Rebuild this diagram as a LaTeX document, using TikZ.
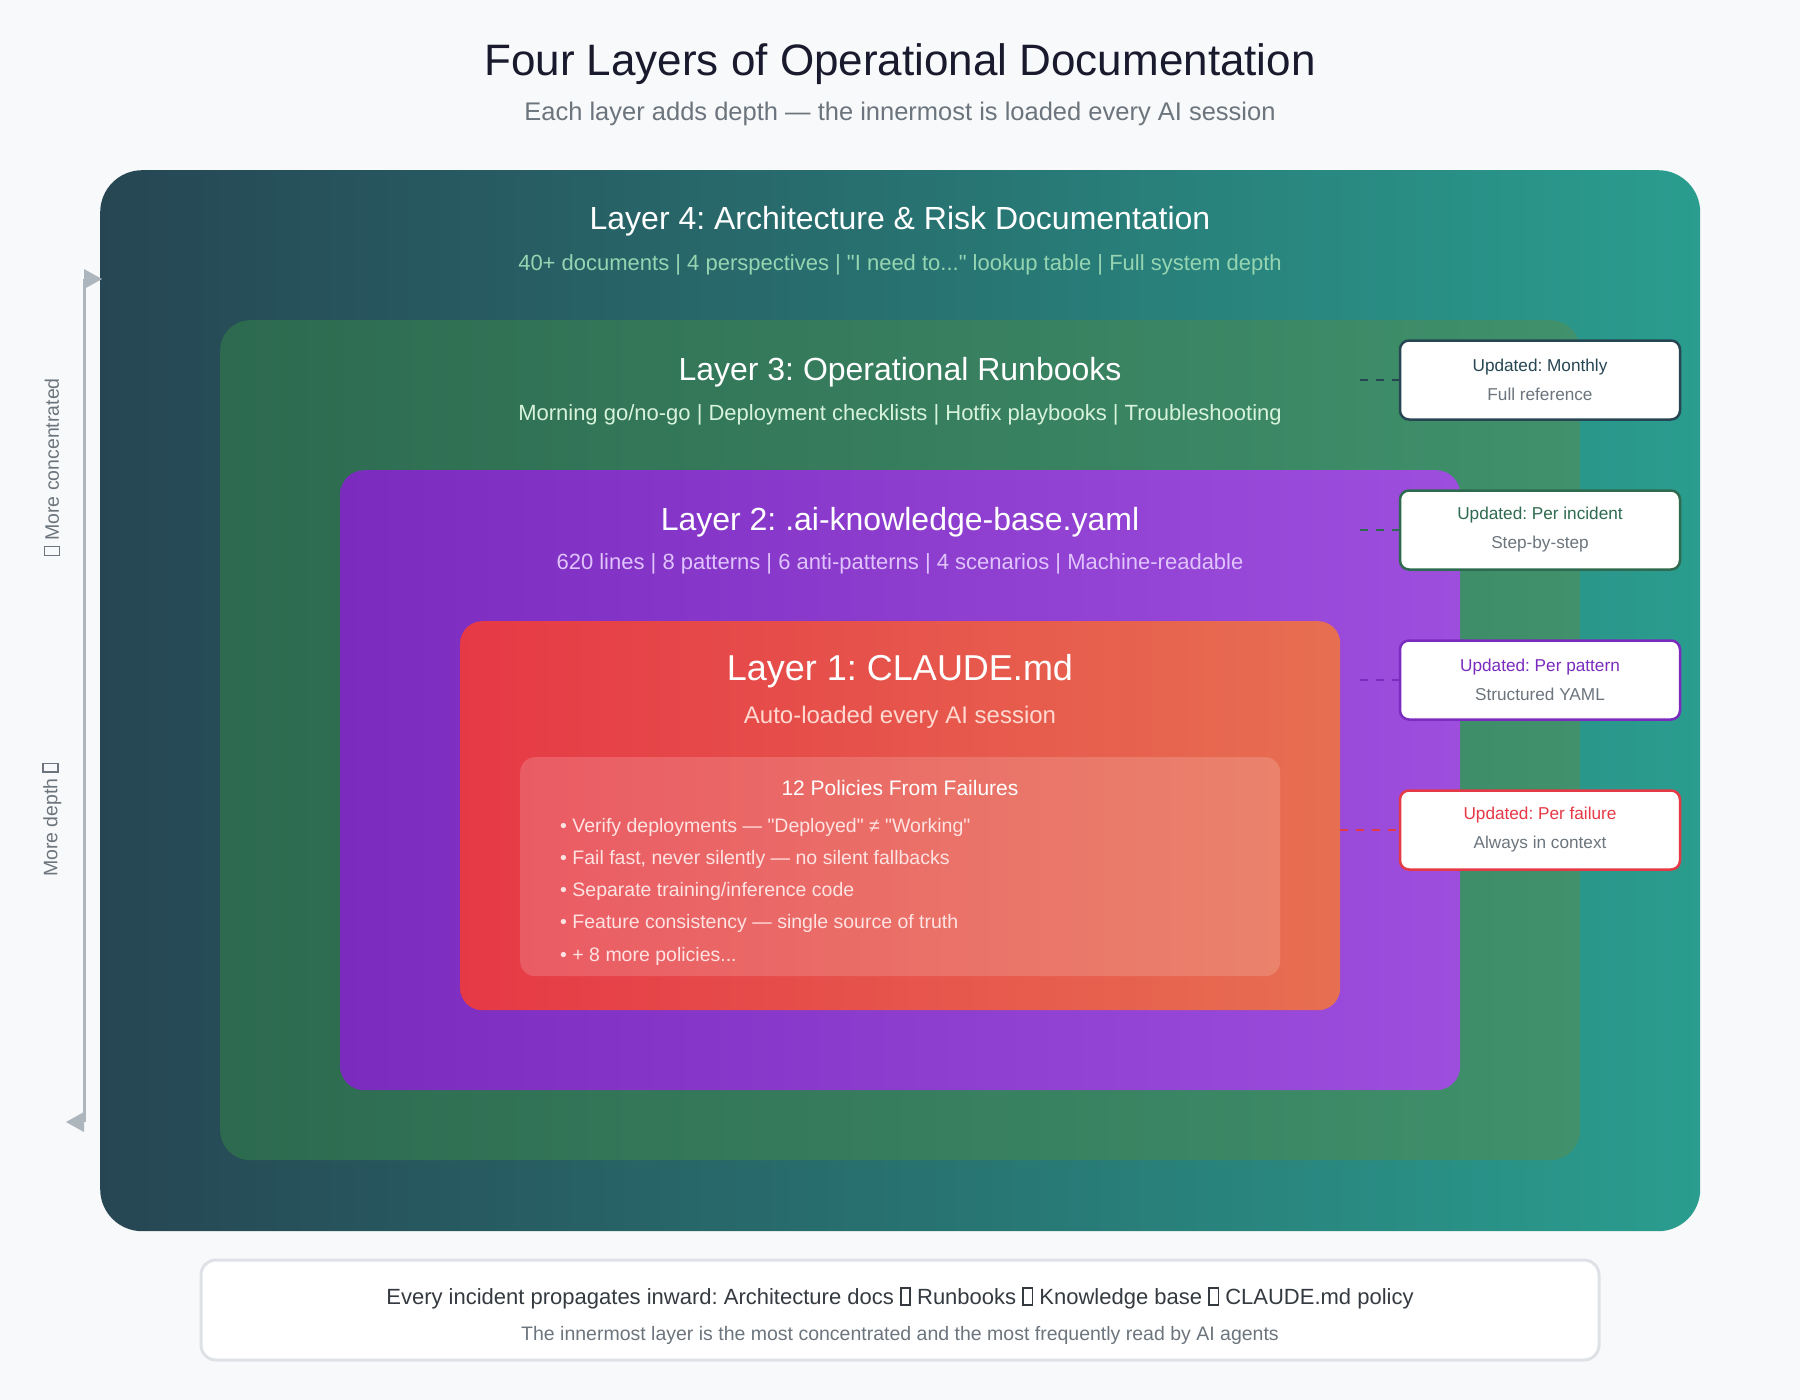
\documentclass[tikz,border=0pt]{standalone}
\usepackage{fontspec}
\setmainfont{Liberation Sans}[Ligatures=TeXOff]
\frenchspacing
\definecolor{bgc}{HTML}{F8F9FA}
\definecolor{titlec}{HTML}{1A1A2E}
\definecolor{subgray}{HTML}{6C757D}
\definecolor{darkgray}{HTML}{343A40}
\definecolor{lgray}{HTML}{DEE2E6}
\definecolor{arrowgray}{HTML}{ADB5BD}
\definecolor{cfourl}{HTML}{264653}
\definecolor{cfourr}{HTML}{2A9D8F}
\definecolor{cthreel}{HTML}{2D6A4F}
\definecolor{cthreer}{HTML}{40916C}
\definecolor{ctwol}{HTML}{7B2CBF}
\definecolor{ctwor}{HTML}{9D4EDD}
\definecolor{conel}{HTML}{E63946}
\definecolor{coner}{HTML}{E76F51}
\definecolor{mint}{HTML}{95D5B2}
\definecolor{palegreen}{HTML}{D8F3DC}
\definecolor{lavender}{HTML}{E0C3FC}
\definecolor{palered}{HTML}{FFD8D0}
\definecolor{palepink}{HTML}{FFE2E2}
\newcommand\tofu{{\fboxsep=0pt\fboxrule=0.07em\fbox{\rule{0pt}{0.7em}\hspace{0.36em}}}}
\newcommand\fsz[2]{\fontsize{#1}{#2}\selectfont}
\begin{document}
\begin{tikzpicture}[x=1pt,y=-1pt,
  layerbox/.style={inner sep=0pt, anchor=north west},
  txt/.style={inner sep=0pt, anchor=base},
  ubox/.style={fill=white, line width=2.5pt, rounded corners=9pt, minimum width=280pt, minimum height=79pt, inner sep=0pt, align=center, font=\fsz{17.2}{29}},
  dashc/.style={line width=2pt, dash pattern=on 8pt off 8pt}
]
\fill[bgc] (0,0) rectangle (1800,1400);
\useasboundingbox (0,0) rectangle (1800,1400);

% title
\node[txt, text=titlec, font=\fsz{44}{50}] (T) at (900,75) {Four Layers of Operational Documentation};
\node[txt, text=subgray, font=\fsz{25.5}{30}] (ST) at (900,120) {Each layer adds depth — the innermost is loaded every AI session};

% layers
\node[layerbox, rounded corners=42pt, left color=cfourl, right color=cfourr, minimum width=1600pt, minimum height=1061pt] (L4) at (100,170) {};
\node[layerbox, rounded corners=30pt, left color=cthreel, right color=cthreer, minimum width=1360pt, minimum height=840pt] (L3) at (220,320) {};
\node[layerbox, rounded corners=24pt, left color=ctwol, right color=ctwor, minimum width=1120pt, minimum height=620pt] (L2) at (340,470) {};
\node[layerbox, rounded corners=22pt, left color=conel, right color=coner, minimum width=880pt, minimum height=389pt] (L1) at (460,621) {};
\node[layerbox, rounded corners=15pt, fill=white, fill opacity=0.16, minimum width=760pt, minimum height=219pt] (PB) at (520,757) {};

% layer texts
\node[txt, text=white, font=\fsz{32}{38}] (L4t) at (900,229) {Layer 4: Architecture \& Risk Documentation};
\node[txt, text=mint, font=\fsz{22}{26}] (L4s) at (900,270) {40+ documents | 4 perspectives | "I need to..." lookup table | Full system depth};
\node[txt, text=white, font=\fsz{32}{38}] (L3t) at (900,380) {Layer 3: Operational Runbooks};
\node[txt, text=palegreen, font=\fsz{22}{26}] (L3s) at (900,420) {Morning go/no-go | Deployment checklists | Hotfix playbooks | Troubleshooting};
\node[txt, text=white, font=\fsz{32}{38}] (L2t) at (900,530) {Layer 2: .ai-knowledge-base.yaml};
\node[txt, text=lavender, font=\fsz{22}{26}] (L2s) at (900,569) {620 lines | 8 patterns | 6 anti-patterns | 4 scenarios | Machine-readable};
\node[txt, text=white, font=\fsz{36}{42}] (L1t) at (900,680) {Layer 1: CLAUDE.md};
\node[txt, text=palered, font=\fsz{24}{28}] (L1s) at (900,723) {Auto-loaded every AI session};

% policies
\node[txt, text=white, font=\fsz{21}{25}] (PT) at (900,795) {12 Policies From Failures};
\begin{scope}[every node/.style={inner sep=0pt, anchor=base west, text=palepink, font=\fsz{19.5}{23}}]
\node (P1) at (560,832) {• Verify deployments — "Deployed" ≠ "Working"};
\node (P2) at (560,864) {• Fail fast, never silently — no silent fallbacks};
\node (P3) at (560,896) {• Separate training/inference code};
\node (P4) at (560,928) {• Feature consistency — single source of truth};
\node (P5) at (560,961) {• + 8 more policies...};
\end{scope}

% update boxes
\node[ubox, draw=cfourl] (U4) at (1540,380) {\color{cfourl}Updated: Monthly\\\color{subgray}Full reference};
\node[ubox, draw=cthreel] (U3) at (1540,530) {\color{cthreel}Updated: Per incident\\\color{subgray}Step-by-step};
\node[ubox, draw=ctwol] (U2) at (1540,680) {\color{ctwol}Updated: Per pattern\\\color{subgray}Structured YAML};
\node[ubox, draw=conel] (U1) at (1540,830) {\color{conel}Updated: Per failure\\\color{subgray}Always in context};

\coordinate (D4) at (1360,380);
\coordinate (D3) at (1360,530);
\coordinate (D2) at (1360,680);
\coordinate (D1) at (1340,830);
\draw[dashc, cfourl] (D4) -- (U4.west);
\draw[dashc, cthreel] (D3) -- (U3.west);
\draw[dashc, ctwol] (D2) -- (U2.west);
\draw[dashc, conel] (D1) -- (U1.west);

% left axis
\coordinate (A1) at (84,279);
\coordinate (A2) at (84,1122);
\draw[arrowgray, line width=3pt] (A1) -- (A2);
\fill[arrowgray] (84,269) -- (102,279) -- (84,289) -- cycle;
\fill[arrowgray] (84,1112) -- (66,1122) -- (84,1132) -- cycle;
\node[rotate=90, inner sep=0pt, text=subgray, font=\fsz{19.5}{23}] (MC) at (52,467) {\tofu{} More concentrated};
\node[rotate=90, inner sep=0pt, text=subgray, font=\fsz{19.5}{23}] (MD) at (52,820) {More depth \tofu};

% bottom note
\node[draw=lgray, line width=3pt, fill=white, rounded corners=15pt, minimum width=1398pt, minimum height=100pt, inner sep=0pt] (NB) at (900,1310) {};
\node[txt, text=darkgray, font=\fsz{22}{26}] (NB1) at (900,1304) {Every incident propagates inward: Architecture docs \tofu{} Runbooks \tofu{} Knowledge base \tofu{} CLAUDE.md policy};
\node[txt, text=subgray, font=\fsz{19.5}{23}] (NB2) at (900,1340) {The innermost layer is the most concentrated and the most frequently read by AI agents};
\end{tikzpicture}
\end{document}
